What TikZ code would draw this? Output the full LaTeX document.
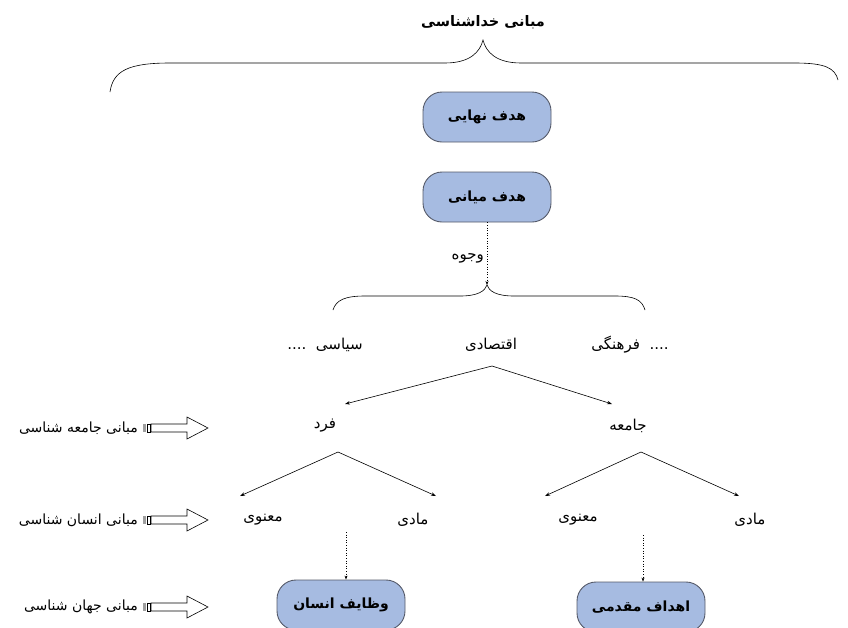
\documentclass[tikz,border=0pt]{standalone}
\usepackage{fontspec}
\usetikzlibrary{arrows.meta}
\TeXXeTstate=1
\newfontfamily\arabicfont[Script=Arabic]{DejaVu Sans}
\definecolor{boxfill}{RGB}{166,187,225}
\definecolor{boxline}{RGB}{85,90,105}
\newcommand{\fa}[1]{\arabicfont\beginR #1\endR}
\begin{document}
\begin{tikzpicture}[x=1pt,y=-1pt,
  goalbox/.style={draw=boxline, fill=boxfill, rounded corners=19pt, minimum width=128pt, minimum height=50pt, font=\arabicfont\bfseries\fontsize{14}{16}\selectfont, line width=0.9pt},
  lbl/.style={font=\arabicfont\fontsize{15}{18}\selectfont, inner sep=1pt},
  sidelbl/.style={font=\arabicfont\fontsize{14}{17}\selectfont, inner sep=1pt},
  tree/.style={-{Stealth[length=5pt,width=3.5pt]}, line width=0.6pt},
  dotarrow/.style={dotted, -{Stealth[length=4pt,width=3pt]}, line width=0.6pt},
  bracepath/.style={line width=0.6pt},
  blockarrow/.pic={
    \fill[gray!75] (0,-4) rectangle (3,4);
    \draw[line width=0.5pt] (4,-4) rectangle (7,4);
    \draw[line width=0.6pt] (8,-4) -- (44,-4) -- (44,-11) -- (65,0) -- (44,11) -- (44,4) -- (8,4) -- cycle;
  }]
\useasboundingbox (0,0) rectangle (848,627);

% title and big brace
\node[font=\arabicfont\bfseries\fontsize{14.5}{17}\selectfont] (title) at (483,22) {\fa{مبانی خداشناسی}};
\coordinate (peak1) at (483,40);
\draw[bracepath] (110,92) .. controls (113,71) and (128,63) .. (170,63) -- (445,63)
  .. controls (470,63) and (480,52) .. (peak1)
  .. controls (486,52) and (496,63) .. (521,63) -- (795,63)
  .. controls (825,63) and (835,68) .. (838,80);

% goal boxes
\node[goalbox] (final) at (487,117) {\fa{هدف نهایی}};
\node[goalbox] (mid) at (487,197) {\fa{هدف میانی}};

% second brace
\coordinate (peak2) at (487,285);
\draw[dotarrow] (mid.south) -- (peak2);
\node[lbl, anchor=east] (vojuh) at (485,258) {\fa{وجوه}};
\draw[bracepath] (333,310) .. controls (336,300) and (345,296) .. (365,296) -- (460,296)
  .. controls (478,296) and (485,291) .. (peak2)
  .. controls (489,291) and (496,296) .. (514,296) -- (615,296)
  .. controls (635,296) and (642,300) .. (645,310);

% aspects
\node[lbl] (siasi) at (325,345) {....\ \ \fa{سیاسی}};
\node[lbl] (eqt) at (491,345) {\fa{اقتصادی}};
\node[lbl] (farh) at (630,345) {\fa{فرهنگی}\ \ ....};

\coordinate (eqtroot) at (492,366);
\coordinate (fardtip) at (345,404);
\coordinate (jamtip) at (612,404);
\draw[tree] (eqtroot) -- (fardtip);
\draw[tree] (eqtroot) -- (jamtip);

\node[lbl] (fard) at (325,426) {\fa{فرد}};
\node[lbl] (jameah) at (628,426) {\fa{جامعه}};

\coordinate (fardroot) at (338,452);
\coordinate (jamroot) at (641,452);
\coordinate (t1) at (240,496);
\coordinate (t2) at (436,496);
\coordinate (t3) at (545,496);
\coordinate (t4) at (739,496);
\draw[tree] (fardroot) -- (t1);
\draw[tree] (fardroot) -- (t2);
\draw[tree] (jamroot) -- (t3);
\draw[tree] (jamroot) -- (t4);

\node[lbl] (manavi1) at (263,520) {\fa{معنوی}};
\node[lbl] (maddi1) at (413,520) {\fa{مادی}};
\node[lbl] (manavi2) at (578,520) {\fa{معنوی}};
\node[lbl] (maddi2) at (750,520) {\fa{مادی}};

% bottom boxes
\node[goalbox] (vazayef) at (341,605) {\fa{وظایف انسان}};
\node[goalbox] (ahdaf) at (641,607) {\fa{اهداف مقدمی}};
\coordinate (d1) at (346,532);
\coordinate (d2) at (643,535);
\draw[dotarrow] (d1) -- (d1 |- vazayef.north);
\draw[dotarrow] (d2) -- (d2 |- ahdaf.north);

% left labels with block arrows
\node[sidelbl, anchor=east] (jamshenasi) at (139,428) {\fa{مبانی جامعه شناسی}};
\node[sidelbl, anchor=east] (ensanshenasi) at (139,520) {\fa{مبانی انسان شناسی}};
\node[sidelbl, anchor=east] (jahanshenasi) at (139,607) {\fa{مبانی جهان شناسی}};
\pic at (143,428) {blockarrow};
\pic at (143,520) {blockarrow};
\pic at (143,607) {blockarrow};
\end{tikzpicture}
\end{document}
